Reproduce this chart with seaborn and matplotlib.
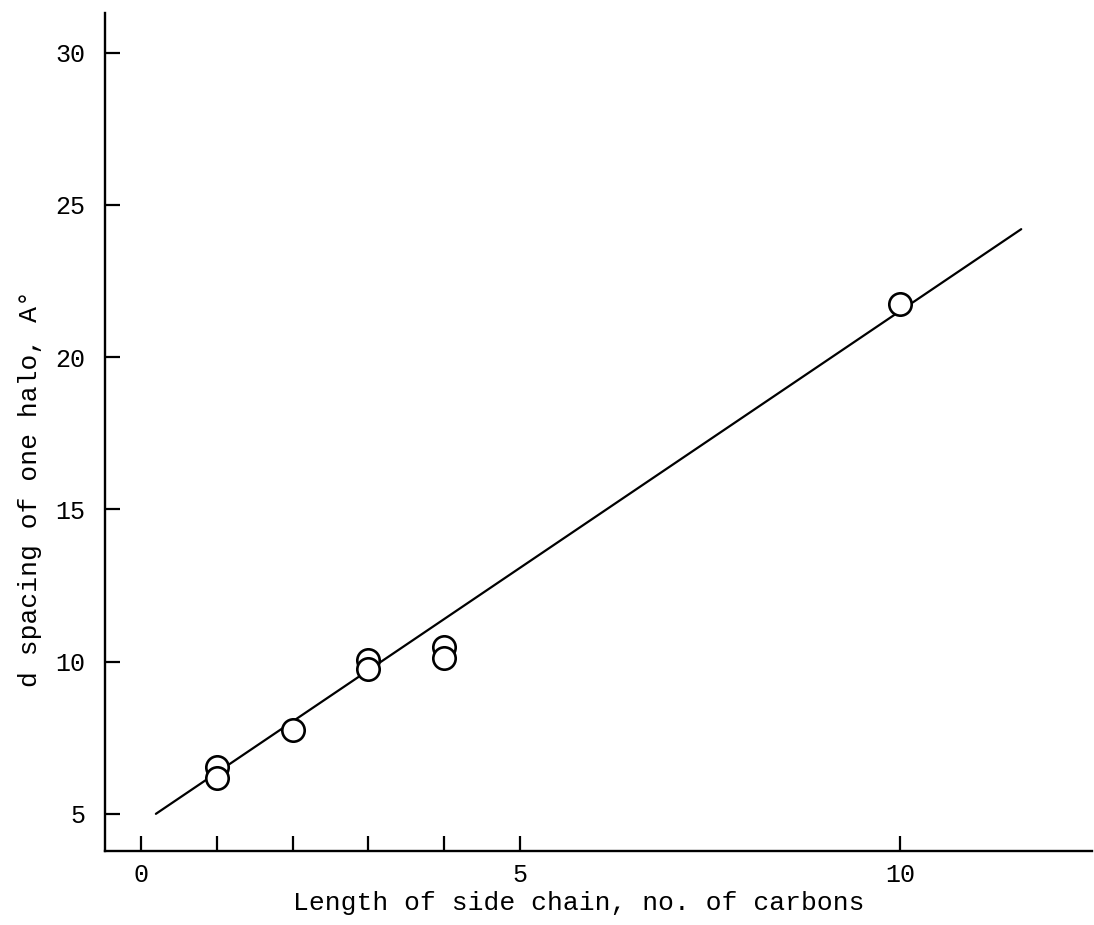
import matplotlib
matplotlib.use("Agg")
import matplotlib.pyplot as plt
import seaborn as sns
import pandas as pd

# Data
carbons = [1, 1, 2, 3, 3, 4, 4, 10]
d_spacing = [6.55, 6.18, 7.76, 10.06, 9.76, 10.49, 10.12, 21.74]
fit_x = [0.2, 11.6]
fit_y = [5.0, 24.2]
x_ticks = [0, 1, 2, 3, 4, 5, 10]
x_tick_labels = ["0", "", "", "", "", "5", "10"]
y_ticks = [5, 10, 15, 20, 25, 30]
y_tick_labels = ["5", "10", "15", "20", "25", "30"]

sns.set_theme(style="ticks")
plt.rcParams['font.family'] = ['Liberation Mono', 'DejaVu Sans Mono']

fig = plt.figure(figsize=(10.94, 9.25), dpi=100)
ax = fig.add_axes([0.096, 0.080, 0.902, 0.906])

pts = pd.DataFrame({"x": carbons, "y": d_spacing})
line = pd.DataFrame({"x": fit_x, "y": fit_y})

sns.lineplot(data=line, x="x", y="y", ax=ax, color="black", linewidth=1.6)
sns.scatterplot(data=pts, x="x", y="y", ax=ax, marker="o", s=260,
                facecolor="white", edgecolor="black", linewidth=1.9, zorder=3)

ax.set_xlim(-0.47, 12.53)
ax.set_ylim(3.78, 31.3)
ax.set_xticks(x_ticks)
ax.set_xticklabels(x_tick_labels)
ax.set_yticks(y_ticks)
ax.set_yticklabels(y_tick_labels)

for s in ["top", "right"]:
    ax.spines[s].set_visible(False)
for s in ["left", "bottom"]:
    ax.spines[s].set_linewidth(1.7)
    ax.spines[s].set_color("black")

ax.tick_params(axis="x", direction="in", length=11, width=1.6, pad=9,
               labelsize=18, colors="black")
ax.tick_params(axis="y", direction="in", length=11, width=1.6, pad=14,
               labelsize=18, colors="black")

ax.set_xlabel("Length of side chain, no. of carbons", fontsize=19, color="black")
ax.set_ylabel("d spacing of one halo, A\u00b0", fontsize=19, color="black")
ax.xaxis.set_label_coords(0.48, -0.048)
ax.yaxis.set_label_coords(-0.064, 0.433)

fig.savefig("out.png", dpi=100)
